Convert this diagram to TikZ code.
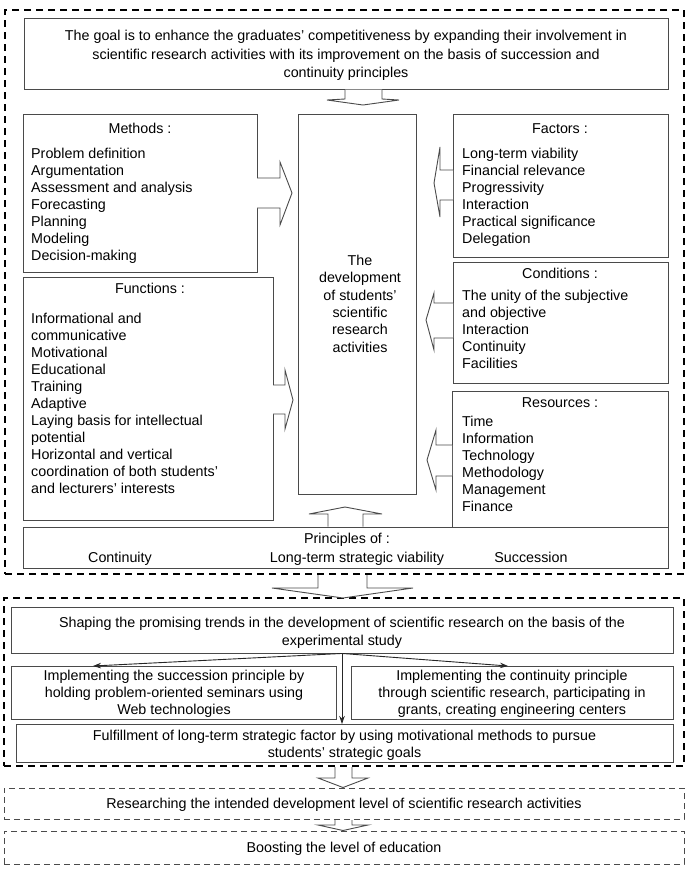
\documentclass[tikz,border=0pt]{standalone}
\usepackage{fontspec}
\setmainfont{Liberation Sans}
\usetikzlibrary{arrows.meta,fit}
\definecolor{boxc}{HTML}{4A4A4A}
\begin{document}
\begin{tikzpicture}[x=1pt,y=-1pt,
  box/.style={draw=boxc, line width=0.9pt, inner sep=0pt, fill=none},
  bigdash/.style={draw=black, line width=1.6pt, dash pattern=on 7pt off 5pt, inner sep=0pt},
  thindash/.style={draw=boxc, line width=0.8pt, dash pattern=on 6pt off 4pt, inner sep=0pt},
  txt/.style={inner sep=0pt, font=\fontsize{14.3}{17}\selectfont},
  gtxt/.style={inner sep=0pt, align=center, font=\fontsize{14.3}{18.5}\selectfont},
  blockarrow/.style={draw=boxc, line width=0.9pt, fill=white, line join=miter},
  thinarrow/.style={draw=black!85, line width=0.9pt, -{Stealth[length=8pt,width=5.5pt]}}
]
\useasboundingbox (0,0) rectangle (691,871);

% outer dashed frames
\node[bigdash, fit={(5,10) (684,574)}] (outerA) {};
\node[bigdash, fit={(4,598) (684,766)}] (outerB) {};

% top part boxes
\node[box, fit={(24,18) (668,89)}] (goal) {};
\node[box, fit={(23,114) (257,272)}] (methods) {};
\node[box, fit={(298,114) (416,494)}] (central) {};
\node[box, fit={(453,114) (668,257)}] (factors) {};
\node[box, fit={(453,262) (668,383)}] (conditions) {};
\node[box, fit={(452,391) (668,527)}] (resources) {};
\node[box, fit={(23,277) (273,520)}] (functions) {};
\node[box, fit={(23,527) (668,568)}] (principles) {};

% texts top part
\node[gtxt, anchor=north] (goaltxt) at (346,30.2) {The goal is to enhance the graduates’ competitiveness by expanding their involvement in\\scientific research activities with its improvement on the basis of succession and\\continuity principles};

\node[txt, anchor=base] (mtitle) at (140,133) {Methods :};
\node[txt, anchor=north west, align=left] (mlist) at (31,148) {Problem definition\\Argumentation\\Assessment and analysis\\Forecasting\\Planning\\Modeling\\Decision-making};

\node[txt, anchor=base] (ftitle) at (560,133) {Factors :};
\node[txt, anchor=north west, align=left] (flist) at (462,147.5) {Long-term viability\\Financial relevance\\Progressivity\\Interaction\\Practical significance\\Delegation};

\node[txt, anchor=base] (ctitle) at (560,278) {Conditions :};
\node[txt, anchor=north west, align=left] (clist) at (462,290) {The unity of the subjective\\and objective\\Interaction\\Continuity\\Facilities};

\node[txt, anchor=base] (rtitle) at (560,407) {Resources :};
\node[txt, anchor=north west, align=left] (rlist) at (462,416) {Time\\Information\\Technology\\Methodology\\Management\\Finance};

\node[txt, anchor=base] (futitle) at (150,293) {Functions :};
\node[txt, anchor=north west, align=left] (fulist) at (31,313) {Informational and\\communicative\\Motivational\\Educational\\Training\\Adaptive\\Laying basis for intellectual\\potential\\Horizontal and vertical\\coordination of both students’\\and lecturers’ interests};

\node[txt, anchor=north, align=center, font=\fontsize{14.3}{17.3}\selectfont] (ctxt) at (360,255) {The\\development\\of students’\\scientific\\research\\activities};

\node[txt, anchor=base] (ptitle) at (347,543) {Principles of :};
\node[txt, anchor=base] (p1) at (120,562) {Continuity};
\node[txt, anchor=base] (p2) at (357,562) {Long-term strategic viability};
\node[txt, anchor=base] (p3) at (531,562) {Succession};

% block arrows top part
\draw[blockarrow] (345,89.5) -- (345,99) -- (327,100) -- (363,105) -- (399,100) -- (382,99) -- (382,89.5);
\draw[blockarrow] (257,178) -- (280,178) -- (280,162) -- (292,193) -- (280,225) -- (280,208) -- (257,208);
\draw[blockarrow] (273,385) -- (285,385) -- (285,370) -- (293,400) -- (285,429) -- (285,414) -- (273,414);
\draw[blockarrow] (453,170) -- (440,170) -- (440,147) -- (434,183) -- (440,217) -- (440,200) -- (453,200);
\draw[blockarrow] (453,303) -- (434,303) -- (434,293) -- (426,320) -- (434,350) -- (434,338) -- (453,338);
\draw[blockarrow] (452,445) -- (436,445) -- (436,430) -- (427,460) -- (436,490) -- (436,476) -- (452,476);
\draw[blockarrow] (328,526.5) -- (328,514) -- (309,514) -- (345,507) -- (382,514) -- (363,514) -- (363,526.5);
\draw[blockarrow] (318,575) -- (318,588) -- (272,588) -- (343,598) -- (413,588) -- (367,588) -- (367,575);

% second part
\node[box, fit={(11,607) (673,653)}] (shaping) {};
\node[box, fit={(11,666) (336,719)}] (implL) {};
\node[box, fit={(351,666) (673,719)}] (implR) {};
\node[box, fit={(16,724) (673,762)}] (fulfill) {};

\node[txt, anchor=north, align=center, font=\fontsize{14.3}{18}\selectfont] (shtxt) at (342,617) {Shaping the promising trends in the development of scientific research on the basis of the\\experimental study};
\node[txt, anchor=north, align=center] (iltxt) at (174,670) {Implementing the succession principle by\\holding problem-oriented seminars using\\Web technologies};
\node[txt, anchor=north, align=center] (irtxt) at (512,670) {Implementing the continuity principle\\through scientific research, participating in\\grants, creating engineering centers};
\node[txt, anchor=north, align=center] (futxt) at (344.5,730) {Fulfillment of long-term strategic factor by using motivational methods to pursue\\students’ strategic goals};

\coordinate (tipL) at (93,666);
\coordinate (tipR) at (508,666);
\coordinate (tipD) at (342,724);
\draw[thinarrow] (shaping.south) -- (tipL);
\draw[thinarrow] (shaping.south) -- (tipR);
\draw[thinarrow] (shaping.south) -- (tipD);

% lower boxes
\draw[blockarrow] (335,767) -- (335,778) -- (318,778) -- (343,787.5) -- (368,778) -- (352,778) -- (352,767);
\node[thindash, fit={(4,788) (684,819)}] (research) {};
\node[txt, anchor=base] (restxt) at (344,808) {Researching the intended development level of scientific research activities};
\draw[blockarrow] (335,820) -- (335,825) -- (318,825) -- (343,830.5) -- (368,825) -- (352,825) -- (352,820);
\node[thindash, fit={(4,831) (684,864)}] (boost) {};
\node[txt, anchor=base] (bootxt) at (344,852) {Boosting the level of education};
\end{tikzpicture}
\end{document}
